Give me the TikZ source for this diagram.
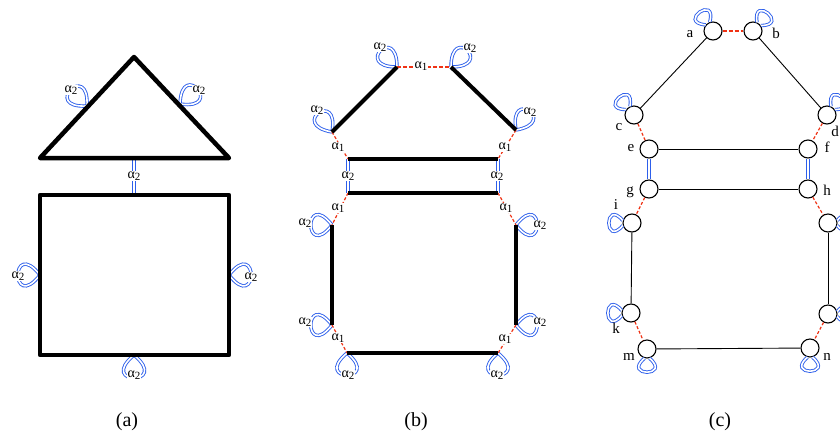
\documentclass[tikz,border=0pt]{standalone}
\usepackage{fontspec}
\setmainfont{Liberation Serif}
\definecolor{ablue}{RGB}{45,95,235}
\definecolor{ared}{RGB}{240,50,20}
\newcommand\aone{α\raisebox{-0.35ex}{\fontsize{11}{11}\selectfont 1}}
\newcommand\atwo{α\raisebox{-0.35ex}{\fontsize{11}{11}\selectfont 2}}
\newcommand\bloop[4]{%
  \pgfmathsetmacro\blo{#2+#3}\pgfmathsetmacro\bli{#2-#3}%
  \draw[bl] (#1) to[out=\blo,in=\bli,distance=#4] (#1);}
\newcommand\nloop[2]{%
  \pgfmathtruncatemacro\nla{#2+15}\pgfmathtruncatemacro\nlb{#2-15}%
  \pgfmathsetmacro\nlo{#2+50}\pgfmathsetmacro\nli{#2-50}%
  \draw[bl] (#1.\nla) .. controls +(\nlo:29pt) and +(\nli:29pt) .. (#1.\nlb);}
\tikzset{
  thickA/.style={line width=4.5pt, line join=round},
  thickB/.style={line width=4pt, line cap=butt},
  bl/.style={draw=ablue, double=white, double distance=1.6pt, line width=0.9pt},
  rd/.style={draw=ared, dash pattern=on 3pt off 2pt, line width=1.2pt},
  rdh/.style={draw=ared, dash pattern=on 4pt off 2pt, line width=2pt},
  lab/.style={fill=white, inner sep=0.6pt, font=\fontsize{14}{14}\selectfont},
  vx/.style={circle, draw, line width=1.1pt, fill=white, minimum size=18pt, inner sep=0pt},
  vl/.style={inner sep=0pt, font=\fontsize{15}{15}\selectfont},
  captxt/.style={font=\fontsize{20}{20}\selectfont}
}
\begin{document}
\begin{tikzpicture}[x=1pt,y=1pt]
\clip (0,0) rectangle (840,-437);
\fill[white] (0,0) rectangle (840,-437);
% ---------------- (a)
\coordinate (T) at (134,-57); \coordinate (TL) at (40,-158); \coordinate (TR) at (229,-158);
\coordinate (RA) at (40,-195); \coordinate (RB) at (229,-355);
\coordinate (tb) at (134,-158); \coordinate (rt) at (134,-195);
\coordinate (la) at (87,-106); \coordinate (ra) at (180,-104);
\coordinate (rl) at (40,-275); \coordinate (rr) at (229,-275); \coordinate (rbm) at (134,-355);
\bloop{la}{135}{48}{46}
\bloop{ra}{40}{48}{46}
\draw[bl] (tb) -- (rt);
\bloop{rl}{180}{52}{48}
\bloop{rr}{0}{52}{48}
\bloop{rbm}{270}{50}{48}
\draw[thickA] (T) -- (TL) -- (TR) -- cycle;
\draw[thickA] (RA) rectangle (RB);
\node[lab] (a1) at (71,-90) {\atwo};
\node[lab] (a2) at (199,-90) {\atwo};
\node[lab] (a3) at (134,-176) {\atwo};
\node[lab] (a4) at (18,-276) {\atwo};
\node[lab] (a5) at (251,-277) {\atwo};
\node[lab] (a6) at (134,-375) {\atwo};
\node[captxt] (capa) at (127,-422) {(a)};
% ---------------- (b)
\coordinate (p1) at (397,-67); \coordinate (p2) at (451,-67);
\coordinate (p3) at (332,-132); \coordinate (p4) at (516,-130);
\coordinate (q1) at (348,-159); \coordinate (q2) at (498,-159);
\coordinate (q3) at (348,-193); \coordinate (q4) at (498,-193);
\coordinate (p5) at (332,-225); \coordinate (p6) at (516,-225);
\coordinate (p7) at (332,-325); \coordinate (p8) at (516,-325);
\coordinate (q5) at (347,-353); \coordinate (q6) at (498,-353);
\bloop{p1}{135}{45}{44}
\bloop{p2}{45}{45}{44}
\bloop{p3}{125}{45}{44}
\bloop{p4}{55}{45}{44}
\bloop{p5}{180}{52}{46}
\bloop{p6}{0}{52}{46}
\bloop{p7}{180}{52}{46}
\bloop{p8}{0}{52}{46}
\bloop{q5}{270}{50}{46}
\bloop{q6}{270}{50}{46}
\draw[bl] (q1) -- (q3);
\draw[bl] (q2) -- (q4);
\draw[rdh] (p1) -- (p2);
\draw[rd] (p3) -- (q1);
\draw[rd] (p4) -- (q2);
\draw[rd] (q3) -- (p5);
\draw[rd] (q4) -- (p6);
\draw[rd] (p7) -- (q5);
\draw[rd] (p8) -- (q6);
\draw[thickB] (p1) -- (p3);
\draw[thickB] (p2) -- (p4);
\draw[thickB] (q1) -- (q2);
\draw[thickB] (q3) -- (q4);
\draw[thickB] (p5) -- (p7);
\draw[thickB] (p6) -- (p8);
\draw[thickB] (q5) -- (q6);
\node[lab] (b1) at (421,-66) {\aone};
\node[lab] (b2) at (338,-147) {\aone};
\node[lab] (b3) at (505,-147) {\aone};
\node[lab] (b4) at (338,-208) {\aone};
\node[lab] (b5) at (506,-208) {\aone};
\node[lab] (b6) at (338,-338) {\aone};
\node[lab] (b7) at (505,-339) {\aone};
\node[lab] (c1) at (380,-47) {\atwo};
\node[lab] (c2) at (470,-48) {\atwo};
\node[lab] (c3) at (317,-110) {\atwo};
\node[lab] (c4) at (530,-112) {\atwo};
\node[lab] (c5) at (348,-176) {\atwo};
\node[lab] (c6) at (497,-176) {\atwo};
\node[lab] (c7) at (305,-223) {\atwo};
\node[lab] (c8) at (540,-225) {\atwo};
\node[lab] (c9) at (305,-322) {\atwo};
\node[lab] (c10) at (540,-322) {\atwo};
\node[lab] (c11) at (348,-375) {\atwo};
\node[lab] (c12) at (497,-375) {\atwo};
\node[captxt] (capb) at (416,-422) {(b)};
% ---------------- (c)
\node[vx] (a) at (713,-31) {};
\node[vx] (b) at (753,-31) {};
\node[vx] (c) at (634,-115) {};
\node[vx] (d) at (827,-115) {};
\node[vx] (e) at (649,-149) {};
\node[vx] (f) at (808,-149) {};
\node[vx] (g) at (649,-189) {};
\node[vx] (h) at (808,-189) {};
\node[vx] (i) at (632,-223) {};
\node[vx] (j) at (828,-223) {};
\node[vx] (k) at (631,-313) {};
\node[vx] (l) at (828,-314) {};
\node[vx] (m) at (647,-349) {};
\node[vx] (n) at (810,-348) {};
\draw[line width=0.9pt] (a) -- (c);
\draw[line width=0.9pt] (b) -- (d);
\draw[line width=0.9pt] (e) -- (f);
\draw[line width=0.9pt] (g) -- (h);
\draw[line width=0.9pt] (i) -- (k);
\draw[line width=0.9pt] (j) -- (l);
\draw[line width=0.9pt] (m) -- (n);
\draw[rdh] (a) -- (b);
\draw[rd] (c) -- (e);
\draw[rd] (d) -- (f);
\draw[rd] (g) -- (i);
\draw[rd] (h) -- (j);
\draw[rd] (k) -- (m);
\draw[rd] (l) -- (n);
\draw[bl] (e) -- (g);
\draw[bl] (f) -- (h);
\nloop{a}{125}
\nloop{b}{50}
\nloop{c}{130}
\nloop{d}{50}
\nloop{i}{180}
\nloop{k}{180}
\nloop{j}{0}
\nloop{l}{0}
\nloop{m}{270}
\nloop{n}{270}
\node[vl] (la) at (690,-34) {a};
\node[vl] (lb) at (776,-33) {b};
\node[vl] (lc) at (619,-127) {c};
\node[vl] (ld) at (835,-131) {d};
\node[vl] (le) at (631,-148) {e};
\node[vl] (lf) at (827,-147) {f};
\node[vl] (lg) at (630,-192) {g};
\node[vl] (lh) at (827,-190) {h};
\node[vl] (li) at (616,-205) {i};
\node[vl] (lk) at (616,-328) {k};
\node[vl] (lm) at (629,-357) {m};
\node[vl] (ln) at (827,-357) {n};
\node[captxt] (capc) at (720,-422) {(c)};
\end{tikzpicture}
\end{document}
